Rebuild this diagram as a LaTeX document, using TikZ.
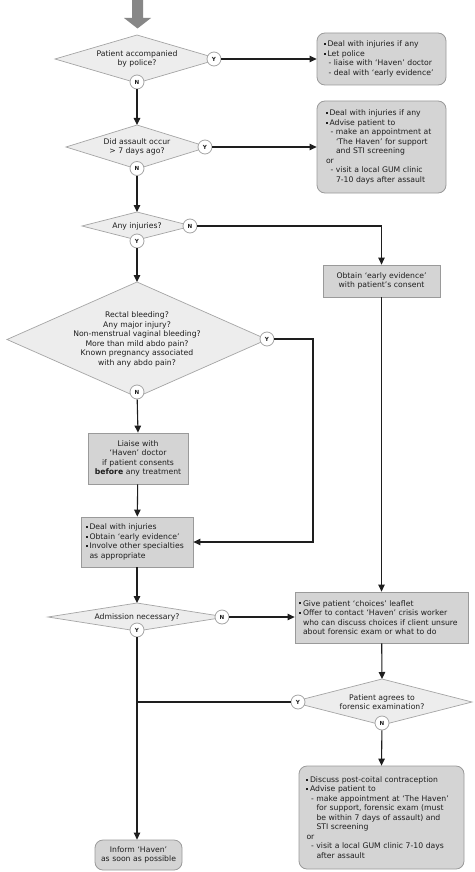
\documentclass[tikz,border=0pt]{standalone}
\usepackage{fontspec}
\setmainfont{DejaVu Sans}
\usetikzlibrary{arrows.meta}
\definecolor{dfill}{HTML}{EDEDED}
\definecolor{dline}{HTML}{A5A5A5}
\definecolor{bfill}{HTML}{D4D4D4}
\definecolor{bline}{HTML}{9A9A9A}
\definecolor{ink}{HTML}{1E1E1E}
\definecolor{bigarrow}{HTML}{878787}
\newcommand\bl{\makebox[4pt][l]{\raisebox{1.8pt}{\rule{2pt}{2pt}}}}
\newcommand\ida{\hspace*{5pt}}
\newcommand\idb{\hspace*{10.5pt}}
% name, cx, cy, half width, half height, text
\newcommand\flowdiamond[6]{%
  \draw[dia] (#2-#4,#3) -- (#2,#3-#5) -- (#2+#4,#3) -- (#2,#3+#5) -- cycle;
  \coordinate (#1-t) at (#2,#3-#5);
  \node[dtext] (#1) at (#2,#3) {#6};}
\begin{document}
\begin{tikzpicture}[x=1pt,y=-1pt,
  every node/.style={font=\fontsize{7.7}{9.5}\selectfont, text=ink},
  dia/.style={fill=dfill, draw=dline, line width=0.7pt},
  dtext/.style={align=center, inner sep=0pt},
  yn/.style={circle, draw=dline, fill=white, line width=0.8pt, minimum size=14pt, inner sep=0pt,
             font=\fontsize{5.6}{6}\selectfont\bfseries},
  sbox/.style={rectangle, fill=bfill, draw=bline, line width=0.8pt, inner ysep=0pt},
  rbox/.style={sbox, rounded corners=8pt},
  conn/.style={draw=ink, line width=1.1pt},
  arr/.style={conn, -{Triangle[length=7pt,width=6.5pt]}}
]
\useasboundingbox (0,0) rectangle (474,872);
\fill[white] (0,0) rectangle (474,872);

% big entry arrow
\fill[bigarrow] (132,0) -- (143,0) -- (143,18) -- (151,18) -- (137.5,28.5) -- (124,18) -- (132,18) -- cycle;

% decisions
\flowdiamond{d1}{137}{59}{82}{24}{Patient accompanied\\by police?}
\flowdiamond{d2}{137}{147}{71}{22}{Did assault occur\\\textgreater\ 7 days ago?}
\flowdiamond{d3}{137}{226}{55}{14}{Any injuries?}
\flowdiamond{d4}{137}{339.5}{130}{57.5}{Rectal bleeding?\\Any major injury?\\Non-menstrual vaginal bleeding?\\More than mild abdo pain?\\Known pregnancy associated\\with any abdo pain?}
\flowdiamond{d5}{137}{617}{89}{14}{Admission necessary?}
\flowdiamond{d6}{382}{702}{90}{23}{Patient agrees to\\forensic examination?}

% Y / N markers
\node[yn] (y1) at (214,59) {Y};
\node[yn] (n1) at (137,82) {N};
\node[yn] (y2) at (205,147) {Y};
\node[yn] (n2) at (137,168.5) {N};
\node[yn] (n3) at (190,226) {N};
\node[yn] (y3) at (137,241) {Y};
\node[yn] (y4) at (267,339) {Y};
\node[yn] (n4) at (137,392) {N};
\node[yn] (n5) at (222,617) {N};
\node[yn] (y5) at (137,630) {Y};
\node[yn] (y6) at (298,702) {Y};
\node[yn] (n6) at (382,723) {N};

% boxes
\node[rbox, minimum width=129pt, minimum height=52pt, inner xsep=6.5pt, text width=116pt, align=left] (b1) at (381.5,59)
  {\bl Deal with injuries if any\\
   \bl Let police\\
   \ida - liaise with ‘Haven’ doctor\\
   \ida - deal with ‘early evidence’};
\node[rbox, minimum width=129pt, minimum height=92pt, inner xsep=8.5pt, text width=112pt, align=left] (b2) at (381.5,147)
  {\bl Deal with injuries if any\\
   \bl Advise patient to\\
   \ida - make an appointment at\\
   \idb ‘The Haven’ for support\\
   \idb and STI screening\\
   \hspace*{0.5pt}or\\
   \ida - visit a local GUM clinic\\
   \idb 7-10 days after assault};
\node[sbox, minimum width=117pt, minimum height=32pt, inner xsep=4pt, text width=109pt, align=center] (b3) at (381.5,281)
  {Obtain ‘early evidence’\\with patient’s consent};
\node[sbox, minimum width=100pt, minimum height=51pt, inner xsep=2pt, text width=96pt, align=center] (b4) at (138,458.5)
  {Liaise with\\‘Haven’ doctor\\if patient consents\\\textbf{before} any treatment};
\node[sbox, minimum width=112pt, minimum height=50pt, inner xsep=4.5pt, text width=103pt, align=left] (b5) at (137,542)
  {\bl Deal with injuries\\
   \bl Obtain ‘early evidence’\\
   \bl Involve other specialties\\
   \hspace*{4pt}as appropriate};
\node[sbox, minimum width=173pt, minimum height=51pt, inner xsep=4pt, text width=165pt, align=left] (b6) at (381.5,617.5)
  {\bl Give patient ‘choices’ leaflet\\
   \bl Offer to contact ‘Haven’ crisis worker\\
   \hspace*{4pt}who can discuss choices if client unsure\\
   \hspace*{4pt}about forensic exam or what to do};
\node[rbox, minimum width=87pt, minimum height=30pt, inner xsep=2pt, text width=83pt, align=center] (b7) at (138.5,855)
  {Inform ‘Haven’\\as soon as possible};
\node[rbox, minimum width=165pt, minimum height=103pt, inner xsep=7pt, text width=151pt, align=left] (b8) at (381.5,817.5)
  {\bl Discuss post-coital contraception\\
   \bl Advise patient to\\
   \ida - make appointment at ‘The Haven’\\
   \idb for support, forensic exam (must\\
   \idb be within 7 days of assault) and\\
   \idb STI screening\\
   \hspace*{0.5pt}or\\
   \ida - visit a local GUM clinic 7-10 days\\
   \idb after assault};

% connectors
\coordinate (k1) at (313,542);
\draw[arr] (y1) -- (y1 -| b1.west);
\draw[arr] (n1) -- (d2-t);
\draw[arr] (y2) -- (y2 -| b2.west);
\draw[arr] (n2) -- (d3-t);
\draw[arr] (n3) -| (b3.north);
\draw[arr] (y3) -- (d4-t);
\draw[arr] (n4) -- (b4.north);
\draw[arr] (y4) -| (k1) -- (k1 -| b5.east);
\draw[arr] (b4) -- (b5);
\draw[arr] (b5) -- (d5-t);
\draw[arr] (b3) -- (b6);
\draw[arr] (n5) -- (n5 -| b6.west);
\draw[arr] (b6) -- (d6-t);
\draw[arr] (y5) -- (y5 |- b7.north);
\draw[conn] (y6) -- (y6 -| y5);
\draw[arr] (n6) -- (b8.north);
\end{tikzpicture}
\end{document}
